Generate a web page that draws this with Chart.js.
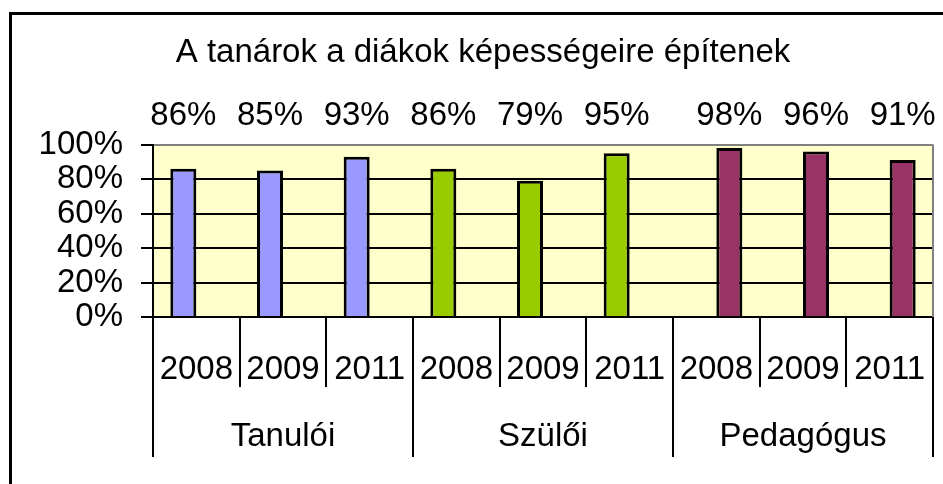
<!DOCTYPE html>
<html>
<head>
<meta charset="utf-8">
<script src="https://cdn.jsdelivr.net/npm/chart.js@4"></script>
<style>
  html, body { margin: 0; padding: 0; background: #fff; overflow: hidden; }
  #frame { position: absolute; left: 9px; top: 12px; width: 1000px; height: 600px;
           border-left: 3px solid #000; border-top: 3px solid #000; }
  #wrap { position: absolute; left: 0; top: 0; width: 943px; height: 484px; }
</style>
</head>
<body>
<div id="frame"></div>
<div id="wrap"><canvas id="chart" width="943" height="484"></canvas></div>
<script>
// values
const years = ['2008', '2009', '2011', '2008', '2009', '2011', '2008', '2009', '2011'];
const groups = ['Tanulói', 'Szülői', 'Pedagógus'];
const studentParent = [86, 85, 93, 86, 79, 95, null, null, null];
const teachers = [null, null, null, null, null, null, 98, 96, 91];
const studentParentColors = ['#9999FF', '#9999FF', '#9999FF', '#99CC00', '#99CC00', '#99CC00', '#99CC00', '#99CC00', '#99CC00'];
const teacherColor = '#993366';
const titleText = 'A tanárok a diákok képességeire építenek';

const FONT = '"Liberation Sans", Arial, sans-serif';
const SIZE = 33;

// yellow plot background + grey right edge
const plotBox = {
    id: 'plotBox',
    beforeDraw(chart) {
        const { ctx, chartArea: a } = chart;
        ctx.save();
        ctx.fillStyle = '#FFFFCC';
        ctx.fillRect(a.left, a.top, a.right - a.left, a.bottom - a.top);
        ctx.restore();
    },
    afterDatasetsDraw(chart) {
        const { ctx, chartArea: a } = chart;
        ctx.save();
        ctx.strokeStyle = '#808080';
        ctx.lineWidth = 2;
        ctx.beginPath();
        ctx.moveTo(a.right, a.top);
        ctx.lineTo(a.right, a.bottom);
        ctx.stroke();
        ctx.restore();
    }
};

// percentage labels above the plot
const valueLabels = {
    id: 'valueLabels',
    afterDatasetsDraw(chart) {
        const ctx = chart.ctx;
        ctx.save();
        ctx.font = SIZE + 'px ' + FONT;
        ctx.fillStyle = '#000';
        ctx.textAlign = 'center';
        ctx.textBaseline = 'middle';
        chart.data.datasets.forEach((ds, i) => {
            chart.getDatasetMeta(i).data.forEach((bar, j) => {
                const v = ds.data[j];
                if (v == null) return;
                ctx.fillText(v + '%', bar.x, chart.chartArea.top - 29);
            });
        });
        ctx.restore();
    }
};

new Chart(document.getElementById('chart'), {
    type: 'bar',
    data: {
        labels: years,
        datasets: [{
            data: studentParent,
            backgroundColor: studentParentColors,
            borderColor: '#000',
            borderWidth: 3
        }, {
            data: teachers,
            backgroundColor: teacherColor,
            borderColor: '#000',
            borderWidth: 3
        }]
    },
    options: {
        responsive: false,
        animation: false,
        devicePixelRatio: 1,
        categoryPercentage: 0.6,
        barPercentage: 1.0,
        layout: { padding: { left: 33, right: 10, top: 0, bottom: 27 } },
        plugins: {
            legend: { display: false },
            tooltip: { enabled: false },
            title: {
                display: true,
                text: titleText,
                color: '#000',
                font: { family: FONT, size: SIZE, weight: 'normal' },
                padding: { top: 33, bottom: 72 }
            }
        },
        scales: {
            y: {
                min: 0,
                max: 100,
                ticks: {
                    stepSize: 20,
                    autoSkip: false,
                    color: '#000',
                    padding: 18,
                    font: { family: FONT, size: SIZE },
                    callback: v => v + '%'
                },
                grid: {
                    color: c => (c.tick && c.tick.value === 100) ? '#808080' : '#000',
                    tickColor: '#000',
                    lineWidth: 2,
                    tickLength: 12
                },
                border: { color: '#000', width: 2 },
                afterFit: s => { s.width = 120; }
            },
            x: {
                offset: true,
                weight: 0,
                ticks: {
                    color: '#000',
                    autoSkip: false,
                    maxRotation: 0,
                    padding: -37,
                    font: { family: FONT, size: SIZE }
                },
                grid: {
                    offset: true,
                    drawOnChartArea: false,
                    color: '#000',
                    lineWidth: 2,
                    tickLength: 70
                },
                border: { color: '#000', width: 2 },
                afterFit: s => { s.height = 70; }
            },
            x2: {
                type: 'category',
                position: 'bottom',
                labels: groups,
                offset: true,
                weight: 1,
                ticks: {
                    color: '#000',
                    autoSkip: false,
                    maxRotation: 0,
                    padding: -40,
                    font: { family: FONT, size: SIZE }
                },
                grid: {
                    offset: true,
                    drawOnChartArea: false,
                    color: '#000',
                    lineWidth: 2,
                    tickLength: 70
                },
                border: { display: false },
                afterFit: s => { s.height = 70; }
            }
        }
    },
    plugins: [plotBox, valueLabels]
});
</script>
</body>
</html>
